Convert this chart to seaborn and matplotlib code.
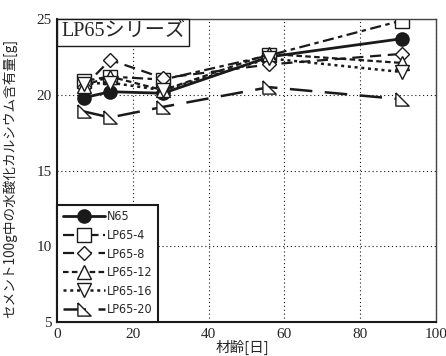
import matplotlib
matplotlib.use("Agg")
import matplotlib.pyplot as plt
import seaborn as sns
from matplotlib.offsetbox import AnchoredText

# ---- data ----
ages = [7, 14, 28, 56, 91]
series_names = ["N65", "LP65-4", "LP65-8", "LP65-12", "LP65-16", "LP65-20"]
n65 = [19.8, 20.2, 20.1, 22.5, 23.7]
lp65_4 = [20.9, 21.2, 21.0, 22.6, 24.9]
lp65_8 = [20.5, 22.3, 21.1, 22.0, 22.7]
lp65_12 = [20.6, 21.2, 20.3, 22.7, 22.1]
lp65_16 = [20.7, 20.8, 20.3, 22.4, 21.5]
lp65_20 = [18.9, 18.5, 19.2, 20.5, 19.7]
values = [n65, lp65_4, lp65_8, lp65_12, lp65_16, lp65_20]
xticks = [0, 20, 40, 60, 80, 100]
yticks = [5, 10, 15, 20, 25]

sns.set_theme(style="white")
serif = "Liberation Serif"
plt.rcParams['font.family'] = [serif, 'Noto Sans CJK JP', 'DejaVu Sans']

fig = plt.figure(figsize=(4.46, 3.56), dpi=100)
ax = fig.add_axes([57/446, 1 - 322/356, (436-57)/446, (322-19)/356])

tri = [(-1, 1), (-1, -1), (1, -1), (-1, 1)]
styles = [
    dict(marker='o', mfc='k', ls='-', lw=2.0),
    dict(marker='s', mfc='white', ls=(0, (5, 2, 2, 2)), lw=1.6),
    dict(marker='D', mfc='white', ls=(0, (5, 3)), lw=1.6, ms_scale=0.8),
    dict(marker='^', mfc='white', ls=(0, (2.5, 1.5)), lw=1.6),
    dict(marker='v', mfc='white', ls=(0, (1.2, 1.5)), lw=1.8),
    dict(marker=tri, mfc='white', ls=(0, (9, 5)), lw=1.8),
]

for name, vals, st in zip(series_names, values, styles):
    ms = 9.5 * st.get('ms_scale', 1.0)
    sns.lineplot(x=ages, y=vals, ax=ax, color='k', marker=st['marker'],
                 markersize=ms, markerfacecolor=st['mfc'], markeredgecolor='k',
                 markeredgewidth=1.0, linestyle=st['ls'], linewidth=st['lw'],
                 label=name)

ax.set_xlim(0, 100)
ax.set_ylim(5, 25)
ax.set_xticks(xticks)
ax.set_yticks(yticks)
ax.grid(True, color='k', linestyle=(0, (1, 2.5)), linewidth=0.8)
ax.tick_params(axis='both', length=0, labelsize=11, pad=4)
for lab in ax.get_xticklabels() + ax.get_yticklabels():
    lab.set_family(serif)
for side in ['left', 'bottom']:
    ax.spines[side].set_linewidth(1.5)
    ax.spines[side].set_color('k')
for side in ['top', 'right']:
    ax.spines[side].set_linewidth(1.0)
    ax.spines[side].set_color('#444444')

ax.set_xlabel("材齢[日]", family=['Noto Sans CJK JP'], fontsize=10.5)
ax.xaxis.set_label_coords(0.49, -0.058)
ax.set_ylabel("セメント100g中の水酸化カルシウム含有量[g]", family=['Noto Sans CJK JP'],
              fontsize=9.8)
ax.yaxis.set_label_coords(-40/379, 0.475)

leg = ax.legend(loc='lower left',
                prop={'family': 'DejaVu Sans', 'size': 9, 'stretch': 'condensed'},
                handlelength=3.4, handletextpad=0.1, borderaxespad=0,
                labelspacing=0.45, borderpad=0.45, fancybox=False,
                edgecolor='k', framealpha=1)
leg.get_frame().set_linewidth(1.5)

at = AnchoredText("LP65シリーズ", loc='upper left', borderpad=0, pad=0.2,
                  prop=dict(size=14.5, family=[serif, 'Noto Sans CJK JP']), frameon=True)
at.patch.set_boxstyle("square,pad=0")
at.patch.set_edgecolor('k')
at.patch.set_linewidth(1.0)
ax.add_artist(at)

fig.savefig("out.png", dpi=100)
